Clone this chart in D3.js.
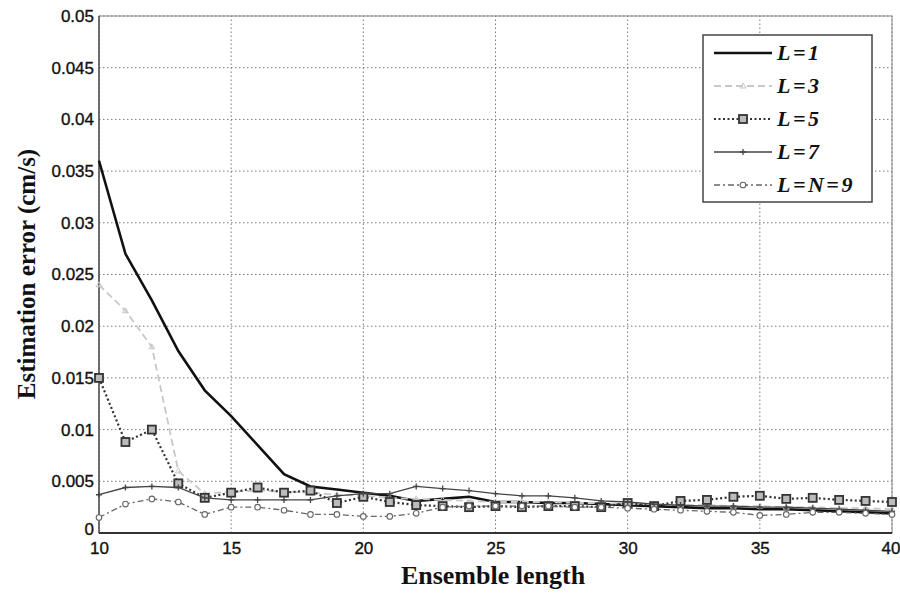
<!DOCTYPE html>
<html>
<head>
<meta charset="utf-8">
<script src="https://cdn.jsdelivr.net/npm/d3@7"></script>
<style>
  body { margin: 0; background: #fff; }
  svg { display: block; }
</style>
</head>
<body>
<svg id="chart"></svg>
<script>
// ensemble lengths 10..40
const ensembleLengths = d3.range(10, 41);

const errL1 = [0.036, 0.027, 0.0225, 0.0176, 0.0138, 0.0113, 0.0085, 0.0057, 0.0045, 0.0042, 0.0039,
  0.0036, 0.0031, 0.0033, 0.0035, 0.003, 0.003, 0.0029, 0.0029, 0.0028, 0.0027,
  0.0026, 0.0025, 0.0024, 0.0024, 0.0023, 0.0023, 0.0022, 0.0021, 0.002, 0.0019];
const errL3 = [0.024, 0.0215, 0.018, 0.006, 0.0038, 0.004, 0.0041, 0.004, 0.0039, 0.0037, 0.0036,
  0.0034, 0.0033, 0.0032, 0.0031, 0.003, 0.003, 0.003, 0.0029, 0.0029, 0.0028,
  0.0028, 0.0027, 0.0027, 0.0026, 0.0026, 0.0025, 0.0025, 0.0024, 0.0024, 0.0023];
const errL5 = [0.015, 0.0088, 0.01, 0.0048, 0.0034, 0.0039, 0.0044, 0.0039, 0.0041, 0.0029, 0.0035,
  0.003, 0.0027, 0.0026, 0.0025, 0.0026, 0.0025, 0.0026, 0.0026, 0.0025, 0.0029,
  0.0026, 0.0031, 0.0032, 0.0035, 0.0036, 0.0033, 0.0034, 0.0032, 0.0031, 0.003];
const errL7 = [0.0037, 0.0044, 0.0045, 0.0044, 0.0034, 0.0032, 0.0032, 0.0032, 0.0032, 0.0036, 0.0038,
  0.0038, 0.0045, 0.0043, 0.0041, 0.0038, 0.0036, 0.0036, 0.0034, 0.0031, 0.003,
  0.0028, 0.0027, 0.0026, 0.0026, 0.0025, 0.0025, 0.0024, 0.0023, 0.0022, 0.0021];
const errL9 = [0.0015, 0.0028, 0.0033, 0.003, 0.0018, 0.0025, 0.0025, 0.0022, 0.0018, 0.0018, 0.0016,
  0.0016, 0.0019, 0.0025, 0.0026, 0.0026, 0.0026, 0.0026, 0.0025, 0.0025, 0.0024,
  0.0023, 0.0022, 0.0021, 0.002, 0.0017, 0.0018, 0.002, 0.002, 0.0019, 0.0018];

const xTicks = [10, 15, 20, 25, 30, 35, 40];
const yTicks = [0, 0.005, 0.01, 0.015, 0.02, 0.025, 0.03, 0.035, 0.04, 0.045, 0.05];

const seriesLabels = ["L=1", "L=3", "L=5", "L=7", "L=N=9"];

const width = 900, height = 594;
const margin = { left: 99, right: 8, top: 16, bottom: 61 };

const svg = d3.select("#chart").attr("width", width).attr("height", height);

const x = d3.scaleLinear().domain([10, 40]).range([margin.left, width - margin.right]);
const y = d3.scaleLinear().domain([0, 0.05]).range([height - margin.bottom, margin.top]);

// grid
svg.append("g").selectAll("line.vg").data(xTicks).join("line")
  .attr("x1", d => x(d)).attr("x2", d => x(d))
  .attr("y1", y(0)).attr("y2", y(0.05))
  .attr("stroke", "#777").attr("stroke-width", 1).attr("stroke-dasharray", "1.5,2.5");
svg.append("g").selectAll("line.hg").data(yTicks).join("line")
  .attr("x1", x(10)).attr("x2", x(40))
  .attr("y1", d => y(d)).attr("y2", d => y(d))
  .attr("stroke", "#777").attr("stroke-width", 1).attr("stroke-dasharray", "1.5,2.5");

// frame
svg.append("rect")
  .attr("x", x(10)).attr("y", y(0.05))
  .attr("width", x(40) - x(10)).attr("height", y(0) - y(0.05))
  .attr("fill", "none").attr("stroke", "#888").attr("stroke-width", 1);
svg.append("line").attr("x1", x(10)).attr("x2", x(40)).attr("y1", y(0)).attr("y2", y(0))
  .attr("stroke", "#333").attr("stroke-width", 2);
svg.append("line").attr("x1", x(10)).attr("x2", x(10)).attr("y1", y(0)).attr("y2", y(0.05))
  .attr("stroke", "#555").attr("stroke-width", 1.5);

// axes
const xAxis = svg.append("g").attr("transform", `translate(0,${y(0)})`)
  .call(d3.axisBottom(x).tickValues(xTicks).tickSize(0).tickPadding(9).tickFormat(d3.format("d")));
const yAxis = svg.append("g").attr("transform", `translate(${x(10)},0)`)
  .call(d3.axisLeft(y).tickValues(yTicks).tickSize(0).tickPadding(5).tickFormat(d => d === 0 ? "0" : d3.format("")(+d.toFixed(3))));
[xAxis, yAxis].forEach(g => {
  g.select(".domain").remove();
  g.selectAll("text").attr("font-family", "Liberation Sans, Arial, sans-serif")
    .attr("font-size", 17).attr("fill", "#111")
    .attr("stroke", "#111").attr("stroke-width", 0.35);
});
// keep the last x label inside the page, lift the "0" off the "10"
xAxis.selectAll(".tick").filter(d => d === 40).select("text").attr("text-anchor", "end").attr("dx", 8);
yAxis.selectAll(".tick").filter(d => d === 0).select("text").attr("dy", "0.1em");

// axis titles
svg.append("text").attr("x", 493).attr("y", 584).attr("text-anchor", "middle")
  .attr("font-family", "Liberation Serif, Times New Roman, serif").attr("font-weight", "bold")
  .attr("font-size", 26).attr("fill", "#111").text("Ensemble length");
svg.append("text").attr("transform", "translate(35,274) rotate(-90)").attr("text-anchor", "middle")
  .attr("font-family", "Liberation Serif, Times New Roman, serif").attr("font-weight", "bold")
  .attr("font-size", 25).attr("fill", "#111").text("Estimation error (cm/s)");

// series styles
const series = [
  { label: seriesLabels[0], values: errL1, color: "#111", width: 2.6, dash: null, marker: null },
  { label: seriesLabels[1], values: errL3, color: "#c8c8c8", width: 1.8, dash: "7,4", marker: "tri" },
  { label: seriesLabels[2], values: errL5, color: "#333", width: 2.2, dash: "2,2.5", marker: "square" },
  { label: seriesLabels[3], values: errL7, color: "#444", width: 1.3, dash: null, marker: "plus" },
  { label: seriesLabels[4], values: errL9, color: "#666", width: 1.3, dash: "6,3,2,3", marker: "circle" }
];

const line = d3.line().x((d, i) => x(ensembleLengths[i])).y(d => y(d));

function drawMarker(g, type, cx, cy, color) {
  if (type === "square") {
    g.append("rect").attr("x", cx - 4).attr("y", cy - 4).attr("width", 8).attr("height", 8)
      .attr("fill", "#bbb").attr("stroke", color).attr("stroke-width", 1.8);
  } else if (type === "circle") {
    g.append("circle").attr("cx", cx).attr("cy", cy).attr("r", 2.8)
      .attr("fill", "#fff").attr("stroke", color).attr("stroke-width", 1.1);
  } else if (type === "plus") {
    g.append("path").attr("d", `M${cx - 3},${cy}H${cx + 3}M${cx},${cy - 3}V${cy + 3}`)
      .attr("stroke", color).attr("stroke-width", 1.3);
  } else if (type === "tri") {
    g.append("path").attr("d", `M${cx},${cy - 3}L${cx + 3},${cy + 2}L${cx - 3},${cy + 2}Z`)
      .attr("fill", "none").attr("stroke", color).attr("stroke-width", 1);
  }
}

series.forEach(s => {
  svg.append("path").datum(s.values)
    .attr("d", line).attr("fill", "none")
    .attr("stroke", s.color).attr("stroke-width", s.width)
    .attr("stroke-dasharray", s.dash);
  if (s.marker) {
    const mg = svg.append("g");
    s.values.forEach((v, i) => drawMarker(mg, s.marker, x(ensembleLengths[i]), y(v), s.color));
  }
});

// legend
const lg = svg.append("g");
lg.append("rect").attr("x", 703).attr("y", 35).attr("width", 169).attr("height", 167)
  .attr("fill", "#fff").attr("stroke", "#444").attr("stroke-width", 1.5);
series.forEach((s, i) => {
  const ly = 53 + i * 33;
  lg.append("line").attr("x1", 714).attr("x2", 772).attr("y1", ly).attr("y2", ly)
    .attr("stroke", s.color).attr("stroke-width", s.width).attr("stroke-dasharray", s.dash);
  if (s.marker) drawMarker(lg, s.marker, 743, ly, s.color);
  lg.append("text").attr("x", 777).attr("y", ly + 7)
    .attr("font-family", "Liberation Serif, Times New Roman, serif")
    .attr("font-weight", "bold").attr("font-style", "italic")
    .attr("letter-spacing", 2.5)
    .attr("font-size", 22).attr("fill", "#111").text(s.label);
});
</script>
</body>
</html>
